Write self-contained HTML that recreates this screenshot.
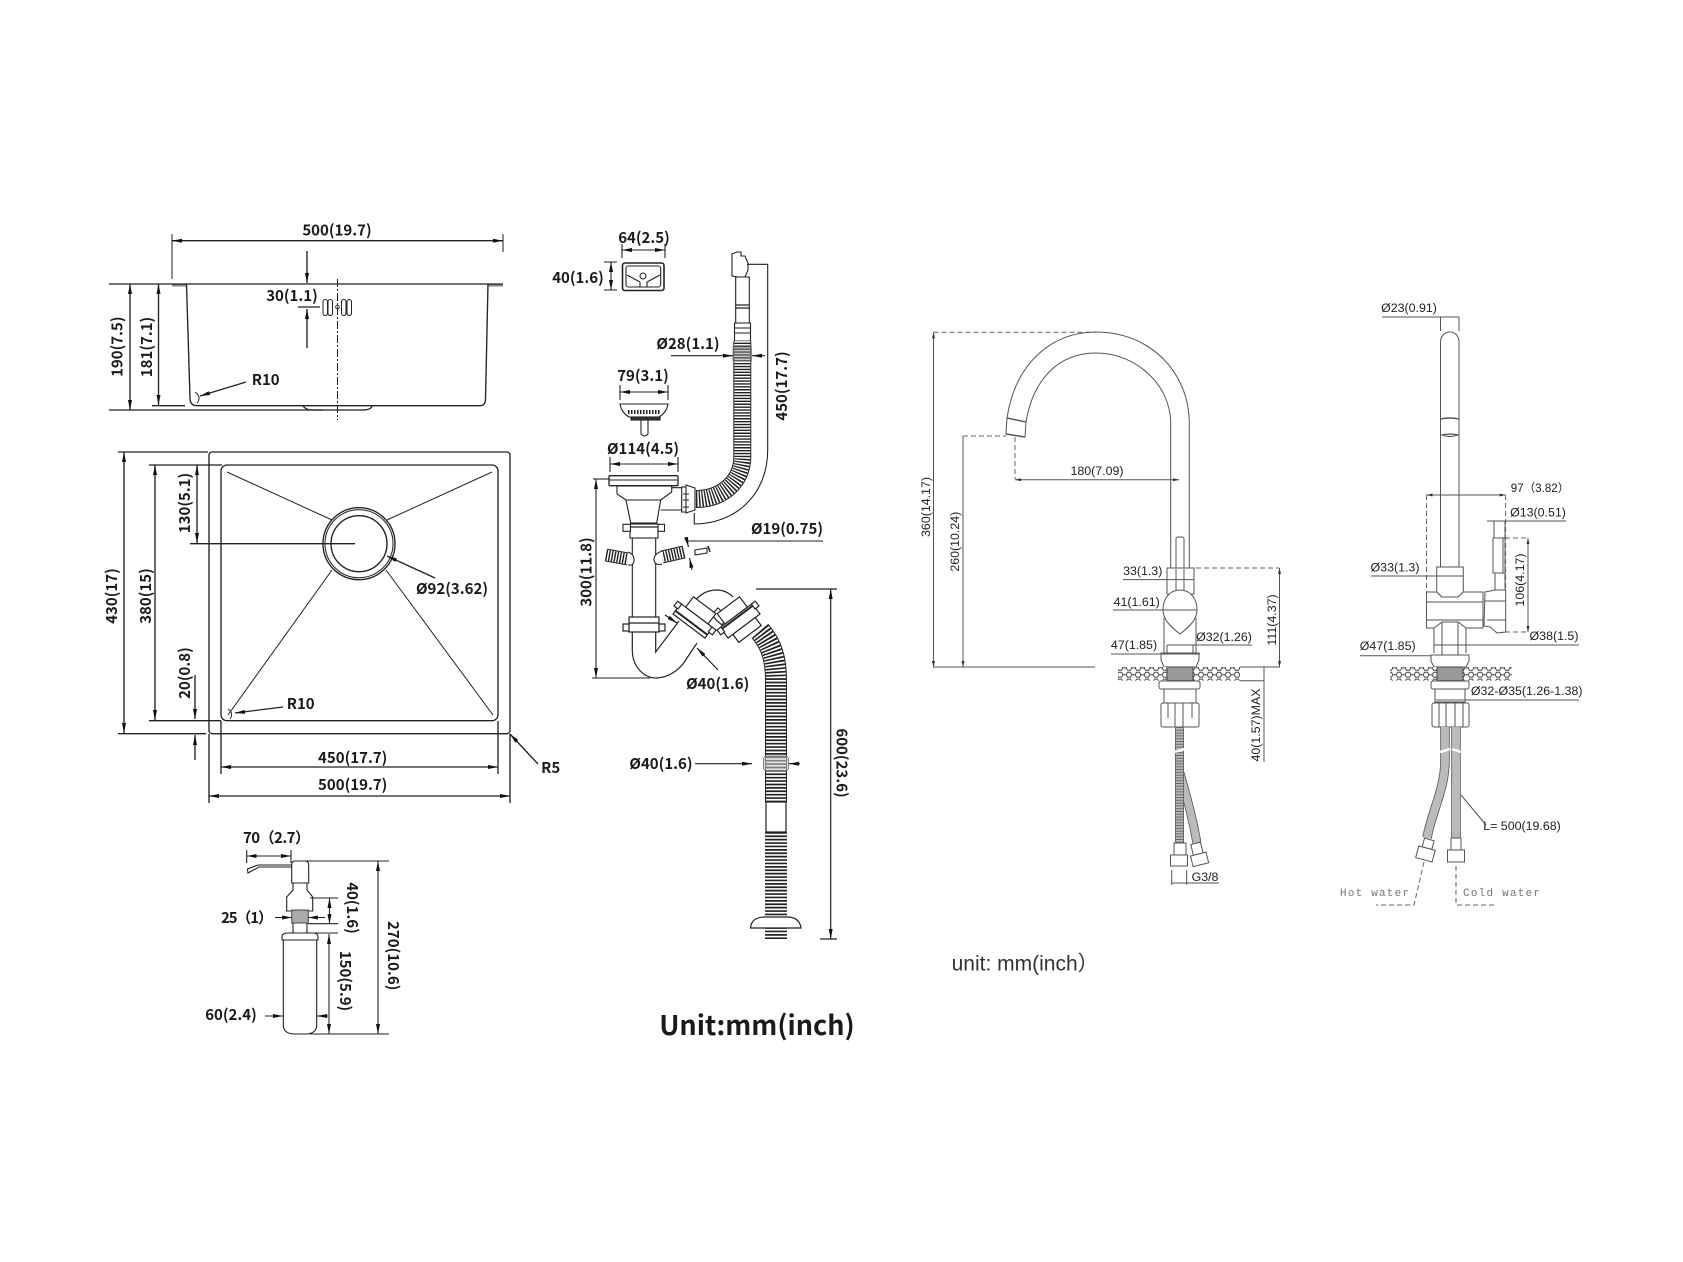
<!DOCTYPE html>
<html><head><meta charset="utf-8">
<style>
html,body{margin:0;padding:0;background:#fff}
svg{display:block;stroke-width:1.35}
.t text,text.t{font-family:"Noto Sans CJK SC","Liberation Sans",sans-serif;font-size:15px;font-weight:700;fill:#1a1a1a}
.f text{font-family:"Liberation Sans","Noto Sans CJK SC",sans-serif;font-size:12.4px;fill:#222}
.m{text-anchor:middle}
.k{fill:none;stroke:#222}
.g{fill:none;stroke:#555}
.gw{fill:#fff;stroke:#555}
.gd{fill:none;stroke:#666;stroke-dasharray:5 3}
.ar{marker-start:url(#a);marker-end:url(#a)}
.ae{marker-end:url(#a)}
.br{marker-start:url(#b);marker-end:url(#b)}
</style></head><body>
<svg width="1683" height="1262" viewBox="0 0 1683 1262" xmlns="http://www.w3.org/2000/svg">
<defs>
<marker id="a" viewBox="0 0 10 4" refX="10" refY="2" markerWidth="10" markerHeight="4" markerUnits="userSpaceOnUse" orient="auto-start-reverse"><path d="M0 0L10 2L0 4z" fill="#111"/></marker>
<marker id="b" viewBox="0 0 6 3" refX="6" refY="1.5" markerWidth="6" markerHeight="3" markerUnits="userSpaceOnUse" orient="auto-start-reverse"><path d="M0 0L6 1.5L0 3z" fill="#333"/></marker>
<pattern id="gv" width="9" height="6.85" patternUnits="userSpaceOnUse"><rect width="9" height="6.85" fill="#fff"/><path d="M1 3.4L2.6 1H5.4L7 3.4L5.4 5.9H2.6z" fill="#fff" stroke="#444" stroke-width="1"/><path d="M7 3.4H9M0 3.4H1" stroke="#444" stroke-width="1"/></pattern>
</defs>

<!-- SINK SIDE VIEW -->
<g class="k">
<path d="M172 234V279M503 234V252" stroke-width="1"/>
<path d="M172 285.5H186M488 285.5H503" stroke="#888" stroke-width="2"/>
<path d="M109 284H503"/>
<path d="M186.5 284L190 398Q190 405.7 197 405.7H480Q485.5 405.7 485.5 399L488 284"/>
<path d="M303 406Q306 410 312 410H362Q371 410 372 406"/>
<path d="M109 410H323M152 405.7H185"/>
<path d="M172 240.7H503" class="k ar"/>
<path d="M130 284V410" class="k ar"/>
<path d="M158.5 284V405" class="k ar"/>
<path d="M307 251V283" class="k ae"/>
<path d="M307 348V309" class="k ae"/>
<path d="M298 307H320"/>
<path d="M337.5 279V420" stroke-dasharray="8 2 2 2" stroke-width="1"/>
<rect x="323" y="299.5" width="4.5" height="16" rx="2.2" stroke-width="1"/><rect x="328" y="299.5" width="4.5" height="16" rx="2.2" stroke-width="1"/>
<rect x="341.5" y="299.5" width="4.5" height="16" rx="2.2" stroke-width="1"/><rect x="347" y="299.5" width="4.5" height="16" rx="2.2" stroke-width="1"/>
<circle cx="337.5" cy="307" r="1.8" stroke-width="1"/>
<path d="M246 382L200 396" class="k ae"/>
<path d="M195 392Q202 397 197 403" stroke-width="1"/>
</g>

<!-- SINK TOP VIEW -->
<g class="k">
<rect x="209" y="452" width="301" height="281.7" rx="3"/>
<rect x="221" y="465" width="277" height="255.7" rx="6"/>
<circle cx="359" cy="543.7" r="36"/><circle cx="359" cy="543.7" r="34" stroke-width="1"/><circle cx="359" cy="543.7" r="28"/>
<path d="M227 472L332 520M492 472L387 520M332 570L228 715M386 570L493 715" stroke-width="1"/>
<path d="M190 543.7H355M118 452H208M118 733.7H206M149 465H222M149 720.7H221"/>
<path d="M124 452V733" class="k ar"/>
<path d="M155 465V720" class="k ar"/>
<path d="M197 465V543" class="k ar"/>
<path d="M195 675V719" class="k ae"/>
<path d="M195 760V735" class="k ae"/>
<path d="M283 707L235 713" class="k ae"/>
<path d="M228 709Q234 713 230 719" stroke-width="1"/>
<path d="M221 721V774M498 721V774M209 734V803M510 734V803"/>
<path d="M221 767H498" class="k ar"/>
<path d="M209 796H510" class="k ar"/>
<path d="M538 764L510 734" class="k ae"/>
<path d="M435 578L387 556" class="k ae"/>
</g>

<!-- DISPENSER -->
<g class="k" stroke-width="1.1">
<path d="M246.7 850V863M291 850V863"/><path d="M246.7 856H291" class="k ar"/>
<path d="M291.7 865H258L247.5 869L248 873L259 867H291.7"/>
<path d="M291.7 883V865Q291.7 861 295 861H305Q308.7 861 308.7 865V883ZM293 883V890L286.7 897V911H312.7V897L307 890V883"/>
<rect x="291.7" y="910" width="16.6" height="13" fill="#aaa" stroke="#555"/>
<path d="M293 923V933M307 923V933"/>
<path d="M282 937Q282 933 287 933H313Q318 933 318 937V940H282Z"/>
<path d="M283.3 940V1026Q284 1034 295 1034H305Q316 1034 316.7 1026V940"/>
<path d="M302 861H389M310 1034H389M310 898H338M308 923.7H338M315 933H338"/>
<path d="M378 861V1034" class="k ar"/>
<path d="M329.5 898V924" class="k ar"/>
<path d="M329 934V1034" class="k ar"/>
<path d="M275 917.5H292" class="k ae"/>
<path d="M325 917.5H308" class="k ae"/>
<path d="M265 1016H283" class="k ae"/>
<path d="M328 1016H317" class="k ae"/>
</g>

<!-- OVERFLOW / STRAINER -->
<g class="k" stroke-width="1.1">
<path d="M622 244V258M665 244V258M604 262H617M604 290H617"/>
<path d="M622 250H665" class="k ar"/>
<path d="M611 262V290" class="k ar"/>
<rect x="622.5" y="263" width="41.5" height="27.5" rx="2.5" stroke-width="1.6"/>
<rect x="626" y="266" width="34.7" height="21" rx="2.5"/>
<path d="M627 275L640 282M660 275L647 282M640 282V287M647 282V287"/>
<circle cx="643" cy="276" r="3"/>

<path d="M737 252H741V256H745L748 263V270L745 277H738L732 276V254Z" fill="#fff"/>
<path d="M735.7 277H749.3V323H735.7Z" fill="#fff"/>
<path d="M735.5 305H749.5M735.5 308H749.5" stroke-width="1.2"/>
<path d="M734.5 323H750.5V341H734.5Z" fill="#fff"/>
<path d="M734.5 328H750.5M734.5 333H750.5"/>
<path d="M696 499C722 499 742 482 742.3 457V341" fill="none" stroke="#222" stroke-width="18"/>
<path d="M696 499C722 499 742 482 742.3 457V341" fill="none" stroke="#fff" stroke-width="16"/>
<path d="M696 499C722 499 742 482 742.3 457V341" fill="none" stroke="#222" stroke-width="16" stroke-dasharray="1.4 1.5"/>
<rect x="733" y="347" width="18.5" height="14" fill="#888" fill-opacity=".45" stroke="#777" stroke-width=".8"/>

<path d="M747 264.3H767.7V450C767.7 495 735 524 694.3 524V513"/>
<path d="M671 355.7H733" class="k ae"/>
<path d="M765 355.7H752" class="k ae"/>

<path d="M620 385V400M668 385V400"/><path d="M620 392H668" class="k ar"/>
<path d="M620 404H668C667 410 664 414 659 417H629C624 414 621 410 620 404Z" fill="#fff"/>
<path d="M628 412H660" stroke="#222" stroke-width="4" stroke-dasharray="1.5 1.5"/>
<rect x="631" y="417" width="29" height="3" fill="#333"/>
<path d="M641 420V434Q644.5 438 648 434V420"/>

<path d="M610 457V472M678 457V472"/><path d="M610 464H678" class="k ar"/>
<rect x="609" y="475.7" width="69" height="10" rx="1" fill="#fff" stroke-width="1.3"/><path d="M609 480H678"/>
<path d="M593 479H609"/>
<path d="M671.7 487.7H682V510H660.7"/>
<path d="M617 486H671.7V492L660.7 500L656.7 523H630.7L626 500L617 494Z" fill="#fff"/>
<path d="M626 500H660.7"/>
<rect x="681.7" y="487" width="5" height="25" fill="#fff"/><path d="M686 485L695 488V510L686 513Z" fill="#fff"/>
<path d="M683 494H689M683 500H689M683 507H689"/>
<rect x="630" y="524" width="28" height="14" fill="#fff"/>
<rect x="623" y="524.3" width="7.5" height="7" fill="#fff"/><rect x="658" y="524.3" width="6.5" height="7" fill="#fff"/>
<path d="M630 527H658" stroke-width="1.3"/>
<path d="M632.3 538V617M655.7 538V617"/>

<path d="M606 555L628 559" fill="none" stroke="#222" stroke-width="13"/>
<path d="M606 555L628 559" fill="none" stroke="#fff" stroke-width="11"/>
<path d="M606 555L628 559" fill="none" stroke="#222" stroke-width="11" stroke-dasharray="1.4 1.4"/>
<path d="M628 552Q634 554 634 560Q634 566 628 565" fill="#fff"/>
<path d="M684 552L662 557" fill="none" stroke="#222" stroke-width="13"/>
<path d="M684 552L662 557" fill="none" stroke="#fff" stroke-width="11"/>
<path d="M684 552L662 557" fill="none" stroke="#222" stroke-width="11" stroke-dasharray="1.4 1.4"/>
<path d="M663 551Q654 553 654 560Q655 566 662 564" fill="#fff"/>
<path d="M695 550L707 548V553L695 555Z" fill="#fff"/><path d="M708 546L710 552" stroke-width="1.5"/>
<path d="M686 541H823"/>
<path d="M686 537L688.5 547" class="k ae"/>
<path d="M692 570L689.5 558" class="k ae"/>

<path d="M596 479V678" class="k ar"/>
<path d="M592 678H650"/>
</g>

<!-- TRAP -->
<g class="k" stroke-width="1.2">
<rect x="629" y="617" width="30" height="15" fill="#fff"/>
<rect x="623" y="624" width="6" height="7" fill="#fff"/><rect x="659" y="624" width="6" height="7" fill="#fff"/>
<path d="M629 623H659"/>
<path d="M632.3 632V650C632.3 668 645 678 656 678C668 678 678 670 683 664L697 643"/>
<path d="M655.7 632V652L679 621"/>
<path d="M694 602C700 594 708 590 716.7 590C723 590 729 593 733 597"/>
<path d="M716 620L712 614L718 608L722 612L726 618L722 625Z" fill="#fff"/>
<g transform="translate(695 618) rotate(37)">
<rect x="-14" y="-16" width="28" height="13" fill="#fff"/>
<rect x="-20" y="-3" width="40" height="13" fill="#fff"/>
<path d="M-20 6H20" stroke-width="2"/>
<rect x="-24" y="-3" width="5" height="6" fill="#fff"/><rect x="19" y="-3" width="5" height="6" fill="#fff"/>
</g>
<g transform="translate(738 618) rotate(-37)">
<rect x="-14" y="-16" width="28" height="13" fill="#fff"/>
<rect x="-20" y="-3" width="40" height="13" fill="#fff"/>
<rect x="-14" y="10" width="28" height="10" fill="#fff"/>
<path d="M-20 -1H20" stroke-width="2"/>
<rect x="-24" y="-3" width="5" height="6" fill="#fff"/><rect x="19" y="-3" width="5" height="6" fill="#fff"/>
</g>
<path d="M760 631C772 645 776 660 776 680V802" fill="none" stroke="#222" stroke-width="22"/>
<path d="M760 631C772 645 776 660 776 680V802" fill="none" stroke="#fff" stroke-width="20"/>
<path d="M760 631C772 645 776 660 776 680V802" fill="none" stroke="#222" stroke-width="20" stroke-dasharray="1.7 1.7"/>
<rect x="766" y="802" width="20" height="30" fill="#fff"/>
<path d="M776 832V939" fill="none" stroke="#222" stroke-width="22" stroke-dasharray="1.7 1.7"/>
<rect x="763.5" y="756" width="25" height="15" rx="3" fill="#ccc" fill-opacity=".55" stroke="#666" stroke-width=".8"/>
<path d="M750.5 928C751 921 756 917 765 917H787C796 917 800 921 801 928Z" fill="#fff"/>
<path d="M665 615L677 623" class="k ae"/>
<path d="M718 670L697 648" class="k ae"/>
<path d="M695 763.7H752" class="k ae"/>
<path d="M800 763.7H789" class="k ae"/>
<path d="M756 589H837M820 939H837"/>
<path d="M830.7 589V939" class="k ar"/>
</g>

<!-- LEFT LABELS -->
<g class="t">
<text class="m" x="337" y="235.6">500(19.7)</text>
<text class="m" transform="translate(122.7 346.7) rotate(-90)">190(7.5)</text>
<text class="m" transform="translate(152 347) rotate(-90)">181(7.1)</text>
<text class="m" x="292" y="301">30(1.1)</text>
<text class="m" x="265.7" y="385">R10</text>
<text class="m" transform="translate(190 503) rotate(-90)">130(5.1)</text>
<text class="m" transform="translate(117 596) rotate(-90)">430(17)</text>
<text class="m" transform="translate(151 596) rotate(-90)">380(15)</text>
<text class="m" transform="translate(190 673) rotate(-90)">20(0.8)</text>
<text class="m" x="300.7" y="709">R10</text>
<text class="m" x="352.7" y="763">450(17.7)</text>
<text class="m" x="352.7" y="790">500(19.7)</text>
<text class="m" x="550.7" y="773">R5</text>
<text class="m" x="452" y="594">Ø92(3.62)</text>
<text x="243" y="843" textLength="67">70（2.7）</text>
<text x="221" y="923" textLength="52">25（1）</text>
<text class="m" transform="translate(347 908) rotate(90)">40(1.6)</text>
<text class="m" transform="translate(340 981) rotate(90)">150(5.9)</text>
<text class="m" transform="translate(388 955.7) rotate(90)">270(10.6)</text>
<text class="m" x="231" y="1020">60(2.4)</text>
<text class="m" x="644" y="243">64(2.5)</text>
<text class="m" x="578" y="283">40(1.6)</text>
<text class="m" x="688" y="349">Ø28(1.1)</text>
<text class="m" transform="translate(787 386) rotate(-90)">450(17.7)</text>
<text class="m" x="643" y="381">79(3.1)</text>
<text class="m" x="643" y="454">Ø114(4.5)</text>
<text class="m" x="787" y="534">Ø19(0.75)</text>
<text class="m" transform="translate(591.7 572) rotate(-90)">300(11.8)</text>
<text class="m" x="717.7" y="689">Ø40(1.6)</text>
<text class="m" x="661" y="769">Ø40(1.6)</text>
<text class="m" transform="translate(836.5 763) rotate(90)">600(23.6)</text>
</g>
<text class="t m" x="757" y="1035" style="font-family:'Noto Sans CJK SC','Liberation Sans',sans-serif;font-size:27px;font-weight:700;fill:#1a1a1a">Unit:mm(inch)</text>
<text x="951.6" y="970.5" style="font-family:'Liberation Sans','Noto Sans CJK SC',sans-serif;font-size:21px;fill:#333">unit: mm(inch）</text>

<!-- FAUCET FRONT -->
<g stroke-width="1">
<path class="gd" d="M933.5 332.3H1096M963 436H1006M1015 437V479M1196 568H1279.5"/>
<path class="g" d="M1007 418C1015 365 1050 332 1096 332C1150 332 1189 372 1189.3 423V569"/>
<path class="g" d="M1026 422C1033 380 1058 353 1096 353C1136 353 1170.7 385 1170.7 423V569"/>
<path class="g" d="M1007 418L1026 422L1025 437L1006 434Z"/>
<path class="g" d="M1007 418L1026 422M1006 434L1025 437" stroke-width="1.4"/>
<path class="g br" d="M933.5 332.3V667"/>
<path class="g" style="marker-end:url(#b)" d="M963 436V667"/>
<path class="g" d="M933 667H1095"/>
<path class="g br" d="M1015 479.7H1179"/>
<rect class="gw" x="1176" y="537" width="8" height="32" rx="2"/>
<rect class="gw" x="1167" y="568" width="27" height="26"/>
<path class="g" d="M1176 569V590M1184 569V590"/>
<path class="g" d="M1164 618V653H1196V618"/>
<path class="gw" d="M1180 590C1170 590 1163 598 1163 610C1163 620 1172 628 1180 634C1188 628 1197 620 1197 610C1197 598 1190 590 1180 590Z"/>
<path class="g" d="M1167 645H1193M1167 645V660M1193 645V660"/>
<path class="gw" d="M1161 653H1199V660L1196 667H1164L1161 660Z"/>
<rect x="1118" y="667" width="122" height="13.7" fill="url(#gv)"/>
<rect x="1167" y="667" width="26" height="13.7" fill="#999" stroke="#444"/>
<rect class="gw" x="1159" y="681" width="41" height="8" rx="2"/>
<path class="gw" d="M1164 689H1196V703H1164Z"/>
<rect class="gw" x="1161" y="703" width="38" height="24" rx="2"/>
<path class="g" d="M1168 703V718M1175 703V727M1183 703V727M1192 703V718"/>
<path d="M1180 773C1186 795 1192 815 1197 843" fill="none" stroke="#555" stroke-width="9"/>
<path d="M1180 773C1186 795 1192 815 1197 843" fill="none" stroke="#bbb" stroke-width="7.4"/>
<path d="M1179.5 727V843" fill="none" stroke="#555" stroke-width="9"/>
<path d="M1179.5 727V843" fill="none" stroke="#bbb" stroke-width="7.4"/>
<path d="M1179.5 727V843" fill="none" stroke="#666" stroke-width="7" stroke-dasharray="1 1.8"/>
<path d="M1174 752L1185 749" stroke="#fff" stroke-width="2.5"/>
<rect class="gw" x="1174" y="843" width="12" height="12"/>
<rect class="gw" x="1170.5" y="855" width="17" height="11"/>
<g transform="translate(1198.5 855) rotate(-14)"><rect class="gw" x="-5" y="-12" width="10" height="11"/><rect class="gw" x="-8" y="-1" width="16" height="11"/></g>
<path class="g" d="M1171.7 870V885M1186.7 870V885"/>
<path class="g" d="M1171.7 883H1219"/>
<path class="g br" d="M1279.5 568V667"/>
<path class="g" d="M1240 667H1280M1240 680.7H1264"/>
<path class="g" d="M1264 667V762"/>
<path class="g" d="M1123 579.6H1194M1113 610H1197M1111 654H1200M1167 645H1252"/>
</g>

<!-- FAUCET SIDE -->
<g stroke-width="1">
<path class="g" d="M1382 317H1459M1440.5 317V331M1459 317V331"/>
<path class="g" d="M1440.5 567V342C1440.5 336 1445 332 1450 332C1455 332 1459 336 1459 342V567"/>
<path class="g" d="M1440.5 419Q1450 417 1459 419" stroke-width="1.4"/>
<path class="g" d="M1442 435Q1450 438 1458 435Q1450 433 1442 435Z" stroke-width="1.2"/>
<path class="g br" d="M1426.5 495H1505.6"/>
<path class="gd" d="M1426.5 495V592M1505.6 495V590M1505 538H1528M1497 632H1528"/>
<path class="g" d="M1487 521H1566M1494 521V538M1505 521V538"/>
<path class="g br" d="M1528 538V632"/>
<rect class="gw" x="1493" y="538" width="12" height="35"/>
<path class="g" d="M1503 538V573M1495 573V590M1505 573V590"/>
<path class="gw" d="M1436.7 567H1463.3V592L1458 597H1441.7L1436.7 592Z"/>
<path class="gw" d="M1426.5 592H1436.7L1441.7 597H1458L1463.3 592H1483V628H1466L1458 622H1442L1434 628H1426.5Z"/>
<path class="g" d="M1426.5 602H1483M1426.5 620H1483"/>
<path class="gw" d="M1485 592L1495 590H1505.7V632L1497 633L1490 627L1484 626Z"/>
<path class="g" d="M1485 601H1505.7M1487 620H1505.7"/>
<path class="g" d="M1434 628V653M1466 628V653M1442 622V660M1458 622V660"/>
<path class="g" d="M1371 576H1463M1434 645H1579M1360 655.7H1465"/>
<path class="gw" d="M1431 655H1469V661L1466 667H1434L1431 661Z"/>
<rect x="1390" y="667" width="122" height="13.7" fill="url(#gv)"/>
<rect x="1437" y="667" width="26" height="13.7" fill="#999" stroke="#444"/>
<rect class="gw" x="1431" y="681" width="38" height="8" rx="2"/>
<path class="gw" d="M1435 689H1465V702H1435Z"/>
<path class="g" d="M1436 700H1579"/>
<rect class="gw" x="1432" y="703" width="37" height="24" rx="2"/>
<path class="g" d="M1439 703V727M1446 703V727M1455 703V727M1463 703V727"/>
<path d="M1445 727V760C1445 790 1432 810 1427 838" fill="none" stroke="#555" stroke-width="9.5"/>
<path d="M1445 727V760C1445 790 1432 810 1427 838" fill="none" stroke="#bbb" stroke-width="7.9"/>
<path d="M1456 727V838" fill="none" stroke="#555" stroke-width="9.5"/>
<path d="M1456 727V838" fill="none" stroke="#bbb" stroke-width="7.9"/>
<path d="M1440 752L1450 749M1452 749L1461 752" stroke="#fff" stroke-width="2.5"/>
<g transform="translate(1425.7 853) rotate(15)"><rect class="gw" x="-5" y="-14" width="10" height="9"/><rect class="gw" x="-8.5" y="-5" width="17" height="12"/></g>
<rect class="gw" x="1451" y="838" width="10" height="12"/>
<rect class="gw" x="1447.5" y="850" width="17" height="12"/>
<path class="g" d="M1461 795L1486 825"/>
<path class="gd" d="M1424 862L1414 905H1376M1456 866V905H1494"/>
</g>

<!-- RIGHT LABELS -->
<g class="f">
<text class="m" transform="translate(930 507) rotate(-90)">360(14.17)</text>
<text class="m" transform="translate(959 541.7) rotate(-90)">260(10.24)</text>
<text class="m" x="1097" y="475">180(7.09)</text>
<text class="m" x="1142.7" y="575">33(1.3)</text>
<text class="m" x="1136.7" y="606">41(1.61)</text>
<text class="m" x="1134" y="649">47(1.85)</text>
<text class="m" x="1224" y="641">Ø32(1.26)</text>
<text class="m" transform="translate(1276 620) rotate(-90)">111(4.37)</text>
<text class="m" transform="translate(1260 725) rotate(-90)">40(1.57)MAX</text>
<text class="m" x="1205" y="881">G3/8</text>
<text class="m" x="1409" y="312">Ø23(0.91)</text>
<text x="1510.7" y="492" style="font-size:11.6px">97（3.82）</text>
<text class="m" x="1538" y="516.7">Ø13(0.51)</text>
<text class="m" transform="translate(1524 580) rotate(-90)">106(4.17)</text>
<text class="m" x="1395" y="571.7">Ø33(1.3)</text>
<text class="m" x="1554" y="640">Ø38(1.5)</text>
<text class="m" x="1387.7" y="650">Ø47(1.85)</text>
<text class="m" x="1526.7" y="695">Ø32-Ø35(1.26-1.38)</text>
<text class="m" x="1522" y="830">L= 500(19.68)</text>
</g>
<g style="font-family:'Liberation Mono',monospace;font-size:11px;fill:#777">
<text x="1340" y="896" textLength="69">Hot water</text>
<text x="1463" y="896" textLength="77">Cold water</text>
</g>
</svg>
</body></html>
